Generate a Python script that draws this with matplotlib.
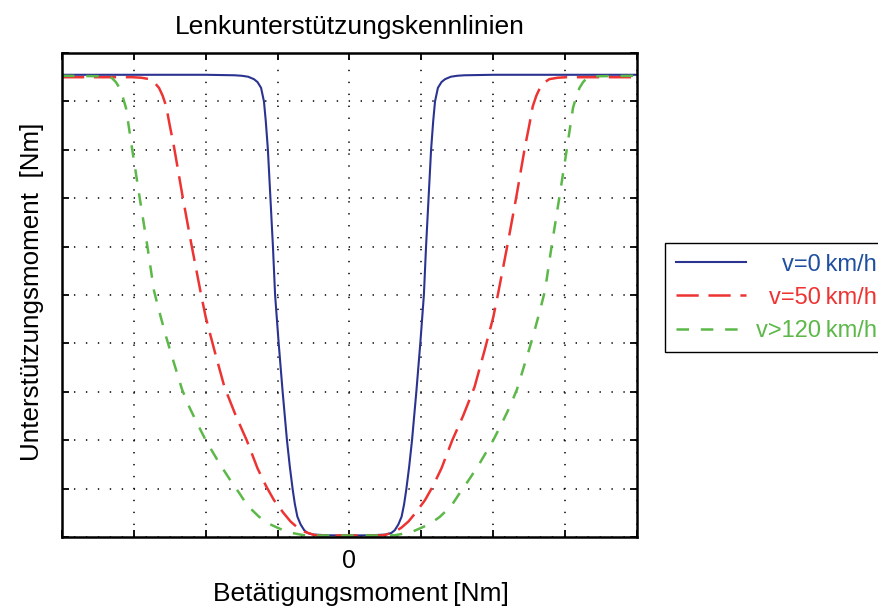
import matplotlib
matplotlib.use('Agg')
import matplotlib.pyplot as plt

plt.rcParams['font.family'] = ['Liberation Sans', 'DejaVu Sans']
plt.rcParams['lines.scale_dashes'] = False

title = 'Lenkunterstützungskennlinien'
x_label = 'Betätigungsmoment\u2009[Nm]'
y_label = 'Unterstützungsmoment  [Nm]'
labels = ['v=0\u2009km/h', 'v=50\u2009km/h', 'v>120\u2009km/h']
x_ticks = [-4, -3, -2, -1, 0, 1, 2, 3, 4]
x_tick_labels = ['', '', '', '', '0', '', '', '', '']
y_ticks = [0, 1, 2, 3, 4, 5, 6, 7, 8, 9, 10]

# v = 0 km/h
x_v0 = [-4.0, -3.0, -2.0, -1.6, -1.5, -1.41, -1.33, -1.28, -1.23, -1.19, -1.165,
        -1.135, -1.10, -1.065, -1.035, -0.985, -0.93, -0.87, -0.83, -0.79, -0.76,
        -0.725, -0.68, -0.63, -0.58, -0.5, -0.3, 0.0, 0.3, 0.5, 0.58, 0.63, 0.68,
        0.725, 0.76, 0.79, 0.83, 0.87, 0.93, 0.985, 1.035, 1.065, 1.10, 1.135,
        1.165, 1.19, 1.23, 1.28, 1.33, 1.41, 1.5, 1.6, 2.0, 3.0, 4.0]
y_v0 = [9.55, 9.55, 9.55, 9.54, 9.53, 9.51, 9.46, 9.40, 9.28, 9.0, 8.6,
        8.0, 7.0, 6.0, 5.0, 4.0, 3.0, 2.0, 1.45, 0.98, 0.68,
        0.42, 0.26, 0.14, 0.08, 0.05, 0.035, 0.03, 0.035, 0.05, 0.08, 0.14, 0.26,
        0.42, 0.68, 0.98, 1.45, 2.0, 3.0, 4.0, 5.0, 6.0, 7.0, 8.0,
        8.6, 9.0, 9.28, 9.40, 9.46, 9.51, 9.53, 9.54, 9.55, 9.55, 9.55]

# v = 50 km/h
x_v50 = [-4.0, -3.02, -2.9, -2.78, -2.72, -2.65, -2.6, -2.55, -2.5, -2.44, -2.32,
         -2.2, -2.07, -2.0, -1.88, -1.74, -1.58, -1.43, -1.28, -1.16, -1.05, -0.92,
         -0.82, -0.72, -0.63, -0.49, -0.4, 0.0, 0.4, 0.49, 0.63, 0.72, 0.82, 0.92,
         1.05, 1.16, 1.28, 1.43, 1.58, 1.74, 1.88, 2.0, 2.07, 2.2, 2.32, 2.44, 2.5,
         2.55, 2.6, 2.65, 2.72, 2.78, 2.9, 3.02, 4.0]
y_v50 = [9.5, 9.5, 9.49, 9.46, 9.40, 9.28, 9.12, 8.9, 8.5, 8.05, 7.02,
         6.05, 5.05, 4.54, 3.86, 3.1, 2.5, 2.0, 1.42, 1.05, 0.76, 0.5,
         0.32, 0.19, 0.11, 0.04, 0.03, 0.03, 0.03, 0.04, 0.11, 0.19, 0.32, 0.5,
         0.76, 1.05, 1.42, 2.0, 2.5, 3.1, 3.86, 4.54, 5.05, 6.05, 7.02, 8.05, 8.5,
         8.9, 9.12, 9.28, 9.40, 9.46, 9.49, 9.5, 9.5]

# v > 120 km/h
x_v120 = [-4.0, -3.45, -3.31, -3.25, -3.2, -3.16, -3.11, -3.02, -2.92, -2.81,
          -2.72, -2.65, -2.55, -2.48, -2.41, -2.33, -2.23, -2.12, -2.0, -1.81,
          -1.67, -1.53, -1.42, -1.26, -1.13, -1.0, -0.86, -0.63, -0.5, 0.0,
          0.5, 0.63, 0.86, 1.0, 1.13, 1.26, 1.42, 1.53, 1.67, 1.81, 2.0, 2.12,
          2.23, 2.33, 2.41, 2.48, 2.55, 2.65, 2.72, 2.81, 2.92, 3.02, 3.11, 3.16,
          3.2, 3.25, 3.31, 3.45, 4.0]
y_v120 = [9.53, 9.52, 9.49, 9.4, 9.28, 9.12, 8.87, 7.98, 7.02, 5.99,
          5.09, 4.68, 4.13, 3.78, 3.44, 3.05, 2.69, 2.35, 2.0, 1.52,
          1.2, 0.9, 0.65, 0.42, 0.28, 0.19, 0.1, 0.035, 0.03, 0.03,
          0.03, 0.035, 0.1, 0.19, 0.28, 0.42, 0.65, 0.9, 1.2, 1.52, 2.0, 2.35,
          2.69, 3.05, 3.44, 3.78, 4.13, 4.68, 5.09, 5.99, 7.02, 7.98, 8.87, 9.12,
          9.28, 9.4, 9.49, 9.52, 9.53]

line_colors = ['#2b3391', '#ee3333', '#5cb848']
text_colors = ['#1f4f9f', '#ee3333', '#5cb848']

fig = plt.figure(figsize=(8.79, 6.1), dpi=100)
ax = fig.add_axes([0.0705, 0.1197, 0.6542, 0.7934])

ax.plot(x_v0, y_v0, color=line_colors[0], lw=1.5, label=labels[0])
ax.plot(x_v50, y_v50, color=line_colors[1], lw=1.8, ls=(0, (16, 7)), label=labels[1])
ax.plot(x_v120, y_v120, color=line_colors[2], lw=1.8, ls=(0, (9, 8.5)), label=labels[2])

ax.set_xlim(-4, 4)
ax.set_ylim(0, 10)
ax.set_xticks(x_ticks)
ax.set_xticklabels(x_tick_labels)
ax.set_yticks(y_ticks)
ax.set_yticklabels([])
ax.grid(True, color='black', linestyle=(0, (1, 7.6)), linewidth=1.1)
ax.tick_params(direction='in', top=True, right=True, length=5, width=1.3,
               labelsize=18, pad=9)
for s in ax.spines.values():
    s.set_linewidth(1.8)

ax.set_title(title, fontsize=19, pad=14)
ax.set_xlabel(x_label, fontsize=19, labelpad=6, x=0.52)
ax.set_ylabel(y_label, fontsize=18.7, labelpad=4, y=0.506)

leg = ax.legend(loc='upper left', bbox_to_anchor=(665 / 879, 1 - 243 / 610),
                bbox_transform=fig.transFigure, borderaxespad=0, fontsize=17,
                fancybox=False, framealpha=1, edgecolor='black',
                handlelength=3.0, handletextpad=0.4, borderpad=0.45,
                labelspacing=0.47)
leg.get_frame().set_linewidth(1.0)
for t, c in zip(leg.get_texts(), text_colors):
    t.set_color(c)

# right-align the legend labels by shifting the shorter ones
fig.canvas.draw()
r = fig.canvas.get_renderer()
widths = [t.get_window_extent(r).width for t in leg.get_texts()]
w = max(widths)
for t, wi in zip(leg.get_texts(), widths):
    t.set_position((w - wi, 0))

fig.savefig('out.png', dpi=100)
